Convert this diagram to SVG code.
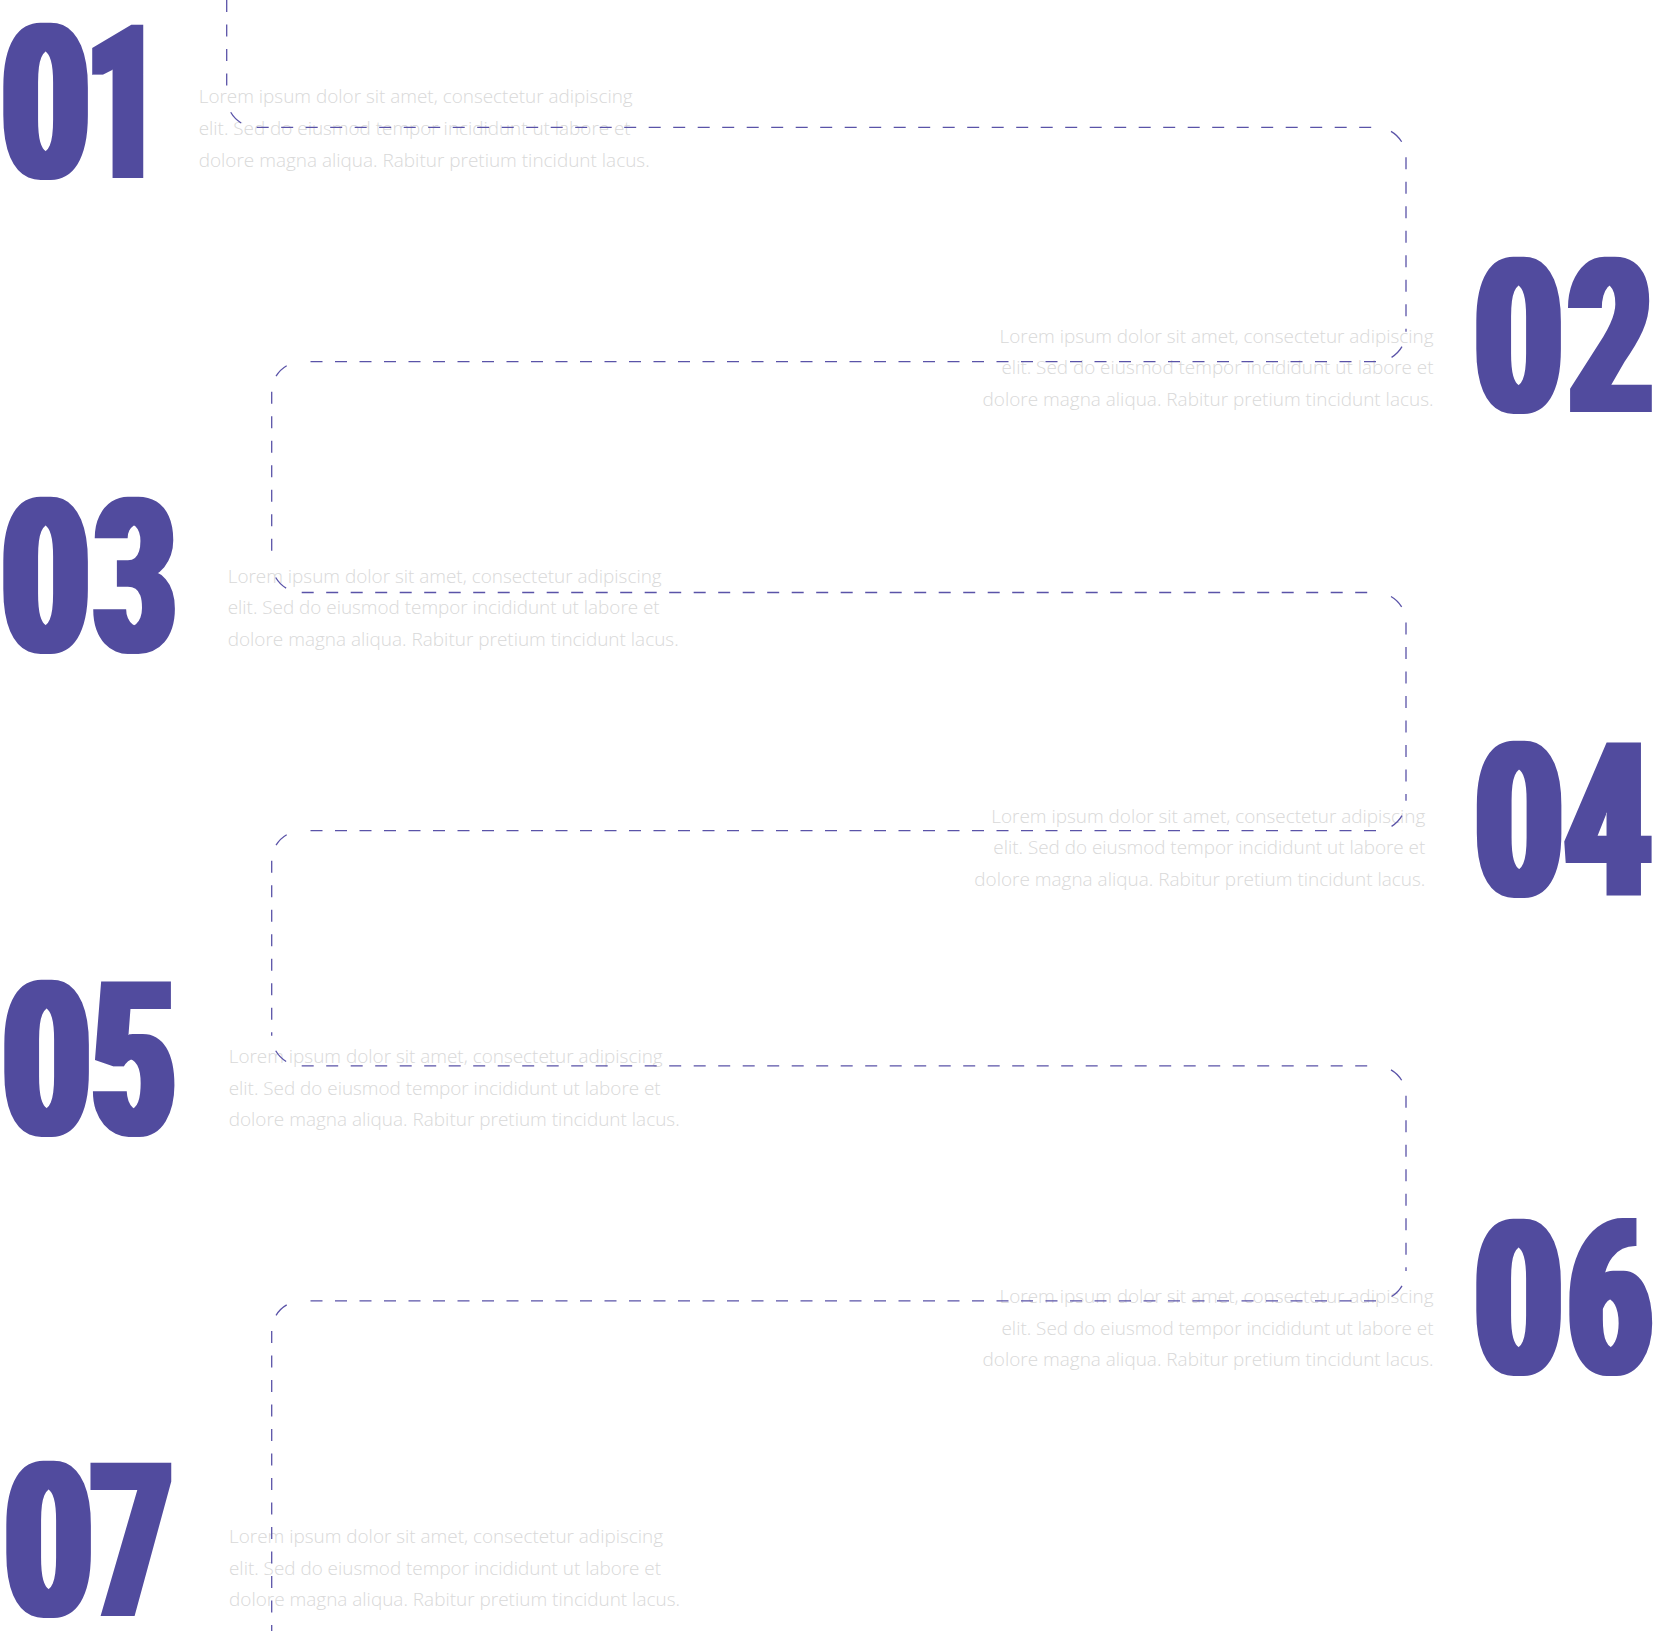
<svg xmlns="http://www.w3.org/2000/svg" width="1653" height="1631" viewBox="0 0 1653 1631">
  <defs>
    <!-- widen the numerals sideways only, for a heavy condensed look -->
    <filter id="widen" x="-10%" y="-5%" width="120%" height="110%">
      <feMorphology operator="dilate" radius="5 0"/>
    </filter>
  </defs>
  <style>
    .num{font-family:"Roboto","Liberation Sans",sans-serif;font-weight:900;font-size:215px;fill:#514b9e}
    .desc{font-family:"Open Sans","Noto Sans",sans-serif;font-weight:300;font-size:19px;fill:#d9d9d9}
    .r{text-anchor:end}
    .seg{fill:none;stroke:#5a53a8;stroke-width:1.3;stroke-dasharray:12 12.5}
    .arc{fill:none;stroke:#5a53a8;stroke-width:1.3;stroke-dasharray:15 100;stroke-dashoffset:-15.7}
  </style>
  <rect width="1653" height="1631" fill="#ffffff"/>

  <!-- step 01 -->
  <g id="step-01">
    <g filter="url(#widen)">
      <text class="num" transform="translate(2,178) scale(0.70,1)">0</text>
      <text class="num" transform="translate(87,178) scale(0.584,1)">1</text>
    </g>
    <text class="desc" x="198.7" y="103" textLength="434" lengthAdjust="spacingAndGlyphs">Lorem ipsum dolor sit amet, consectetur adipiscing</text>
    <text class="desc" x="198.7" y="135" textLength="432" lengthAdjust="spacingAndGlyphs">elit. Sed do eiusmod tempor incididunt ut labore et</text>
    <text class="desc" x="198.7" y="166.5" textLength="451" lengthAdjust="spacingAndGlyphs">dolore magna aliqua. Rabitur pretium tincidunt lacus.</text>
  </g>

  <!-- step 02 -->
  <g id="step-02">
    <g filter="url(#widen)">
      <text class="num" transform="translate(1475,412) scale(0.70,1)">0</text>
      <text class="num" transform="translate(1568.8,412) scale(0.672,1)">2</text>
    </g>
    <text class="desc r" x="1433.5" y="342.5" textLength="434" lengthAdjust="spacingAndGlyphs">Lorem ipsum dolor sit amet, consectetur adipiscing</text>
    <text class="desc r" x="1433.5" y="374" textLength="432" lengthAdjust="spacingAndGlyphs">elit. Sed do eiusmod tempor incididunt ut labore et</text>
    <text class="desc r" x="1433.5" y="405.5" textLength="451" lengthAdjust="spacingAndGlyphs">dolore magna aliqua. Rabitur pretium tincidunt lacus.</text>
  </g>

  <!-- step 03 -->
  <g id="step-03">
    <g filter="url(#widen)">
      <text class="num" transform="translate(2,652) scale(0.70,1)">0</text>
      <text class="num" transform="translate(95,652) scale(0.645,1)">3</text>
    </g>
    <text class="desc" x="227.7" y="582.5" textLength="434" lengthAdjust="spacingAndGlyphs">Lorem ipsum dolor sit amet, consectetur adipiscing</text>
    <text class="desc" x="227.7" y="614" textLength="432" lengthAdjust="spacingAndGlyphs">elit. Sed do eiusmod tempor incididunt ut labore et</text>
    <text class="desc" x="227.7" y="645.5" textLength="451" lengthAdjust="spacingAndGlyphs">dolore magna aliqua. Rabitur pretium tincidunt lacus.</text>
  </g>

  <!-- step 04 -->
  <g id="step-04">
    <g filter="url(#widen)">
      <text class="num" transform="translate(1475.5,896) scale(0.70,1)">0</text>
      <text class="num" transform="translate(1565,896) scale(0.69,1)">4</text>
    </g>
    <text class="desc r" x="1425.3" y="822.5" textLength="434" lengthAdjust="spacingAndGlyphs">Lorem ipsum dolor sit amet, consectetur adipiscing</text>
    <text class="desc r" x="1425.3" y="854" textLength="432" lengthAdjust="spacingAndGlyphs">elit. Sed do eiusmod tempor incididunt ut labore et</text>
    <text class="desc r" x="1425.3" y="885.5" textLength="451" lengthAdjust="spacingAndGlyphs">dolore magna aliqua. Rabitur pretium tincidunt lacus.</text>
  </g>

  <!-- step 05 -->
  <g id="step-05">
    <g filter="url(#widen)">
      <text class="num" transform="translate(3,1135) scale(0.70,1)">0</text>
      <text class="num" transform="translate(92.3,1135) scale(0.669,1)">5</text>
    </g>
    <text class="desc" x="228.7" y="1063" textLength="434" lengthAdjust="spacingAndGlyphs">Lorem ipsum dolor sit amet, consectetur adipiscing</text>
    <text class="desc" x="228.7" y="1094.5" textLength="432" lengthAdjust="spacingAndGlyphs">elit. Sed do eiusmod tempor incididunt ut labore et</text>
    <text class="desc" x="228.7" y="1126" textLength="451" lengthAdjust="spacingAndGlyphs">dolore magna aliqua. Rabitur pretium tincidunt lacus.</text>
  </g>

  <!-- step 06 -->
  <g id="step-06">
    <g filter="url(#widen)">
      <text class="num" transform="translate(1475,1374) scale(0.70,1)">0</text>
      <text class="num" transform="translate(1568.5,1374) scale(0.664,1)">6</text>
    </g>
    <text class="desc r" x="1433.5" y="1303" textLength="434" lengthAdjust="spacingAndGlyphs">Lorem ipsum dolor sit amet, consectetur adipiscing</text>
    <text class="desc r" x="1433.5" y="1334.5" textLength="432" lengthAdjust="spacingAndGlyphs">elit. Sed do eiusmod tempor incididunt ut labore et</text>
    <text class="desc r" x="1433.5" y="1366" textLength="451" lengthAdjust="spacingAndGlyphs">dolore magna aliqua. Rabitur pretium tincidunt lacus.</text>
  </g>

  <!-- step 07 -->
  <g id="step-07">
    <g filter="url(#widen)">
      <text class="num" transform="translate(5,1616) scale(0.70,1)">0</text>
      <text class="num" transform="translate(92,1616) scale(0.642,1)">7</text>
    </g>
    <text class="desc" x="229" y="1543" textLength="434" lengthAdjust="spacingAndGlyphs">Lorem ipsum dolor sit amet, consectetur adipiscing</text>
    <text class="desc" x="229" y="1574.5" textLength="432" lengthAdjust="spacingAndGlyphs">elit. Sed do eiusmod tempor incididunt ut labore et</text>
    <text class="desc" x="229" y="1606" textLength="451" lengthAdjust="spacingAndGlyphs">dolore magna aliqua. Rabitur pretium tincidunt lacus.</text>
  </g>

  <!-- dashed serpentine route linking the steps -->
  <g id="connectors">
    <path class="seg" d="M226.7,0 V97.3"/>
    <path class="arc" d="M226.7,97.3 A30,30 0 0 0 256.7,127.3"/>
    <path class="seg" d="M256.7,127.3 H1376"/>
    <path class="arc" d="M1376,127.3 A30,30 0 0 1 1406,157.3"/>
    <path class="seg" d="M1406,157.3 V331.7"/>
    <path class="arc" d="M1406,331.7 A30,30 0 0 1 1376,361.7"/>
    <path class="seg" d="M1376,361.7 H301.7"/>
    <path class="arc" d="M301.7,361.7 A30,30 0 0 0 271.7,391.7"/>
    <path class="seg" d="M271.7,391.7 V562.5"/>
    <path class="arc" d="M271.7,562.5 A30,30 0 0 0 301.7,592.5"/>
    <path class="seg" d="M301.7,592.5 H1376"/>
    <path class="arc" d="M1376,592.5 A30,30 0 0 1 1406,622.5"/>
    <path class="seg" d="M1406,622.5 V800.7"/>
    <path class="arc" d="M1406,800.7 A30,30 0 0 1 1376,830.7"/>
    <path class="seg" d="M1376,830.7 H301.7"/>
    <path class="arc" d="M301.7,830.7 A30,30 0 0 0 271.7,860.7"/>
    <path class="seg" d="M271.7,860.7 V1035.8"/>
    <path class="arc" d="M271.7,1035.8 A30,30 0 0 0 301.7,1065.8"/>
    <path class="seg" d="M301.7,1065.8 H1376"/>
    <path class="arc" d="M1376,1065.8 A30,30 0 0 1 1406,1095.8"/>
    <path class="seg" d="M1406,1095.8 V1270.9"/>
    <path class="arc" d="M1406,1270.9 A30,30 0 0 1 1376,1300.9"/>
    <path class="seg" d="M1376,1300.9 H301.7"/>
    <path class="arc" d="M301.7,1300.9 A30,30 0 0 0 271.7,1330.9"/>
    <path class="seg" d="M271.7,1330.9 V1631"/>
  </g>
</svg>
